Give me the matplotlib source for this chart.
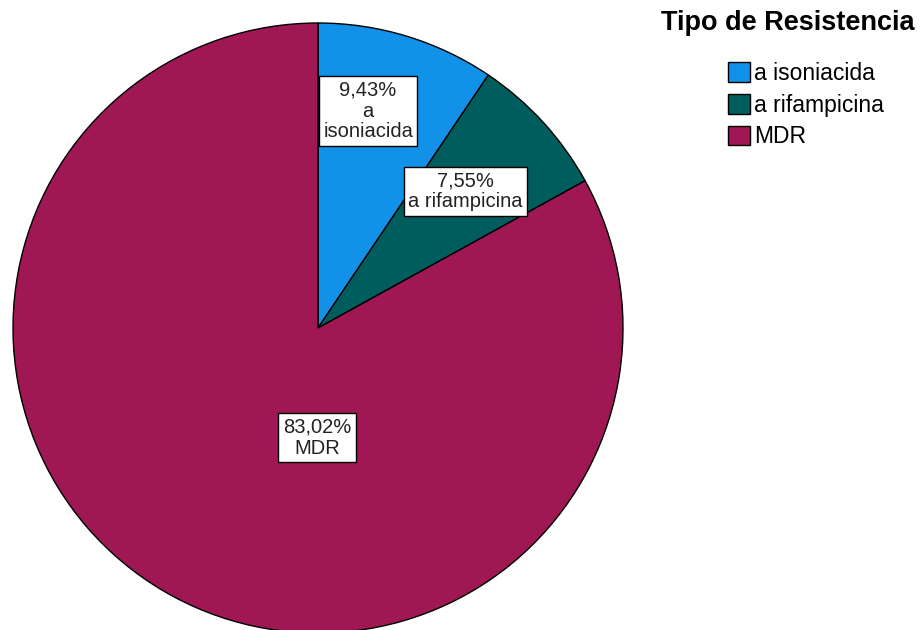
import numpy as np
import matplotlib.pyplot as plt
from matplotlib.patches import Patch

plt.rcParams['font.family'] = ['Liberation Sans', 'DejaVu Sans']

# Tipo de Resistencia - porcentajes
categorias = ["a isoniacida", "a rifampicina", "MDR"]
porcentajes = [9.43, 7.55, 83.02]
etiquetas = ["a\nisoniacida", "a rifampicina", "MDR"]
colores = ["#1192E8", "#005D5D", "#9F1853"]

# posicion de cada etiqueta (fraccion del radio, angulo en grados)
pos_etiquetas = [(0.73, 77.0), (0.66, 42.8), (0.36, -90.5)]

W, H = 923, 630
cx, cy, R = 318, 328, 305  # centro y radio del pastel en pixeles

fig = plt.figure(figsize=(W / 100, H / 100), dpi=100)
ax = fig.add_axes([0, 0, 1, 1])

wedges, _ = ax.pie(porcentajes, colors=colores, startangle=90, counterclock=False,
                   radius=1.0, wedgeprops=dict(edgecolor="black", linewidth=1.0))

for p, lab, (r, ang) in zip(porcentajes, etiquetas, pos_etiquetas):
    x = r * np.cos(np.radians(ang))
    y = r * np.sin(np.radians(ang))
    txt = f"{p:.2f}".replace(".", ",") + "%\n" + lab
    ax.text(x, y, txt, ha="center", va="center", fontsize=14.5, color="#222222",
            linespacing=1.12,
            bbox=dict(boxstyle="square,pad=0.22", facecolor="white",
                      edgecolor="black", linewidth=1.0))

ax.set_aspect("auto")
ax.set_xlim(-cx / R, (W - cx) / R)
ax.set_ylim(-(H - cy) / R, cy / R)
ax.axis("off")

fig.text(661 / W, 1 - 23 / H, "Tipo de Resistencia", fontsize=19.5, fontweight="bold",
         ha="left", va="center")

handles = [Patch(facecolor=c, edgecolor="black", linewidth=1.0) for c in colores]
fig.legend(handles, categorias, loc="upper left", bbox_to_anchor=(728 / W, 1 - 62 / H),
           frameon=False, fontsize=16.5, handlelength=0.95, handleheight=0.95,
           handletextpad=0.2, labelspacing=0.38, borderpad=0, borderaxespad=0)

fig.savefig("out.png", dpi=100, facecolor="white")
